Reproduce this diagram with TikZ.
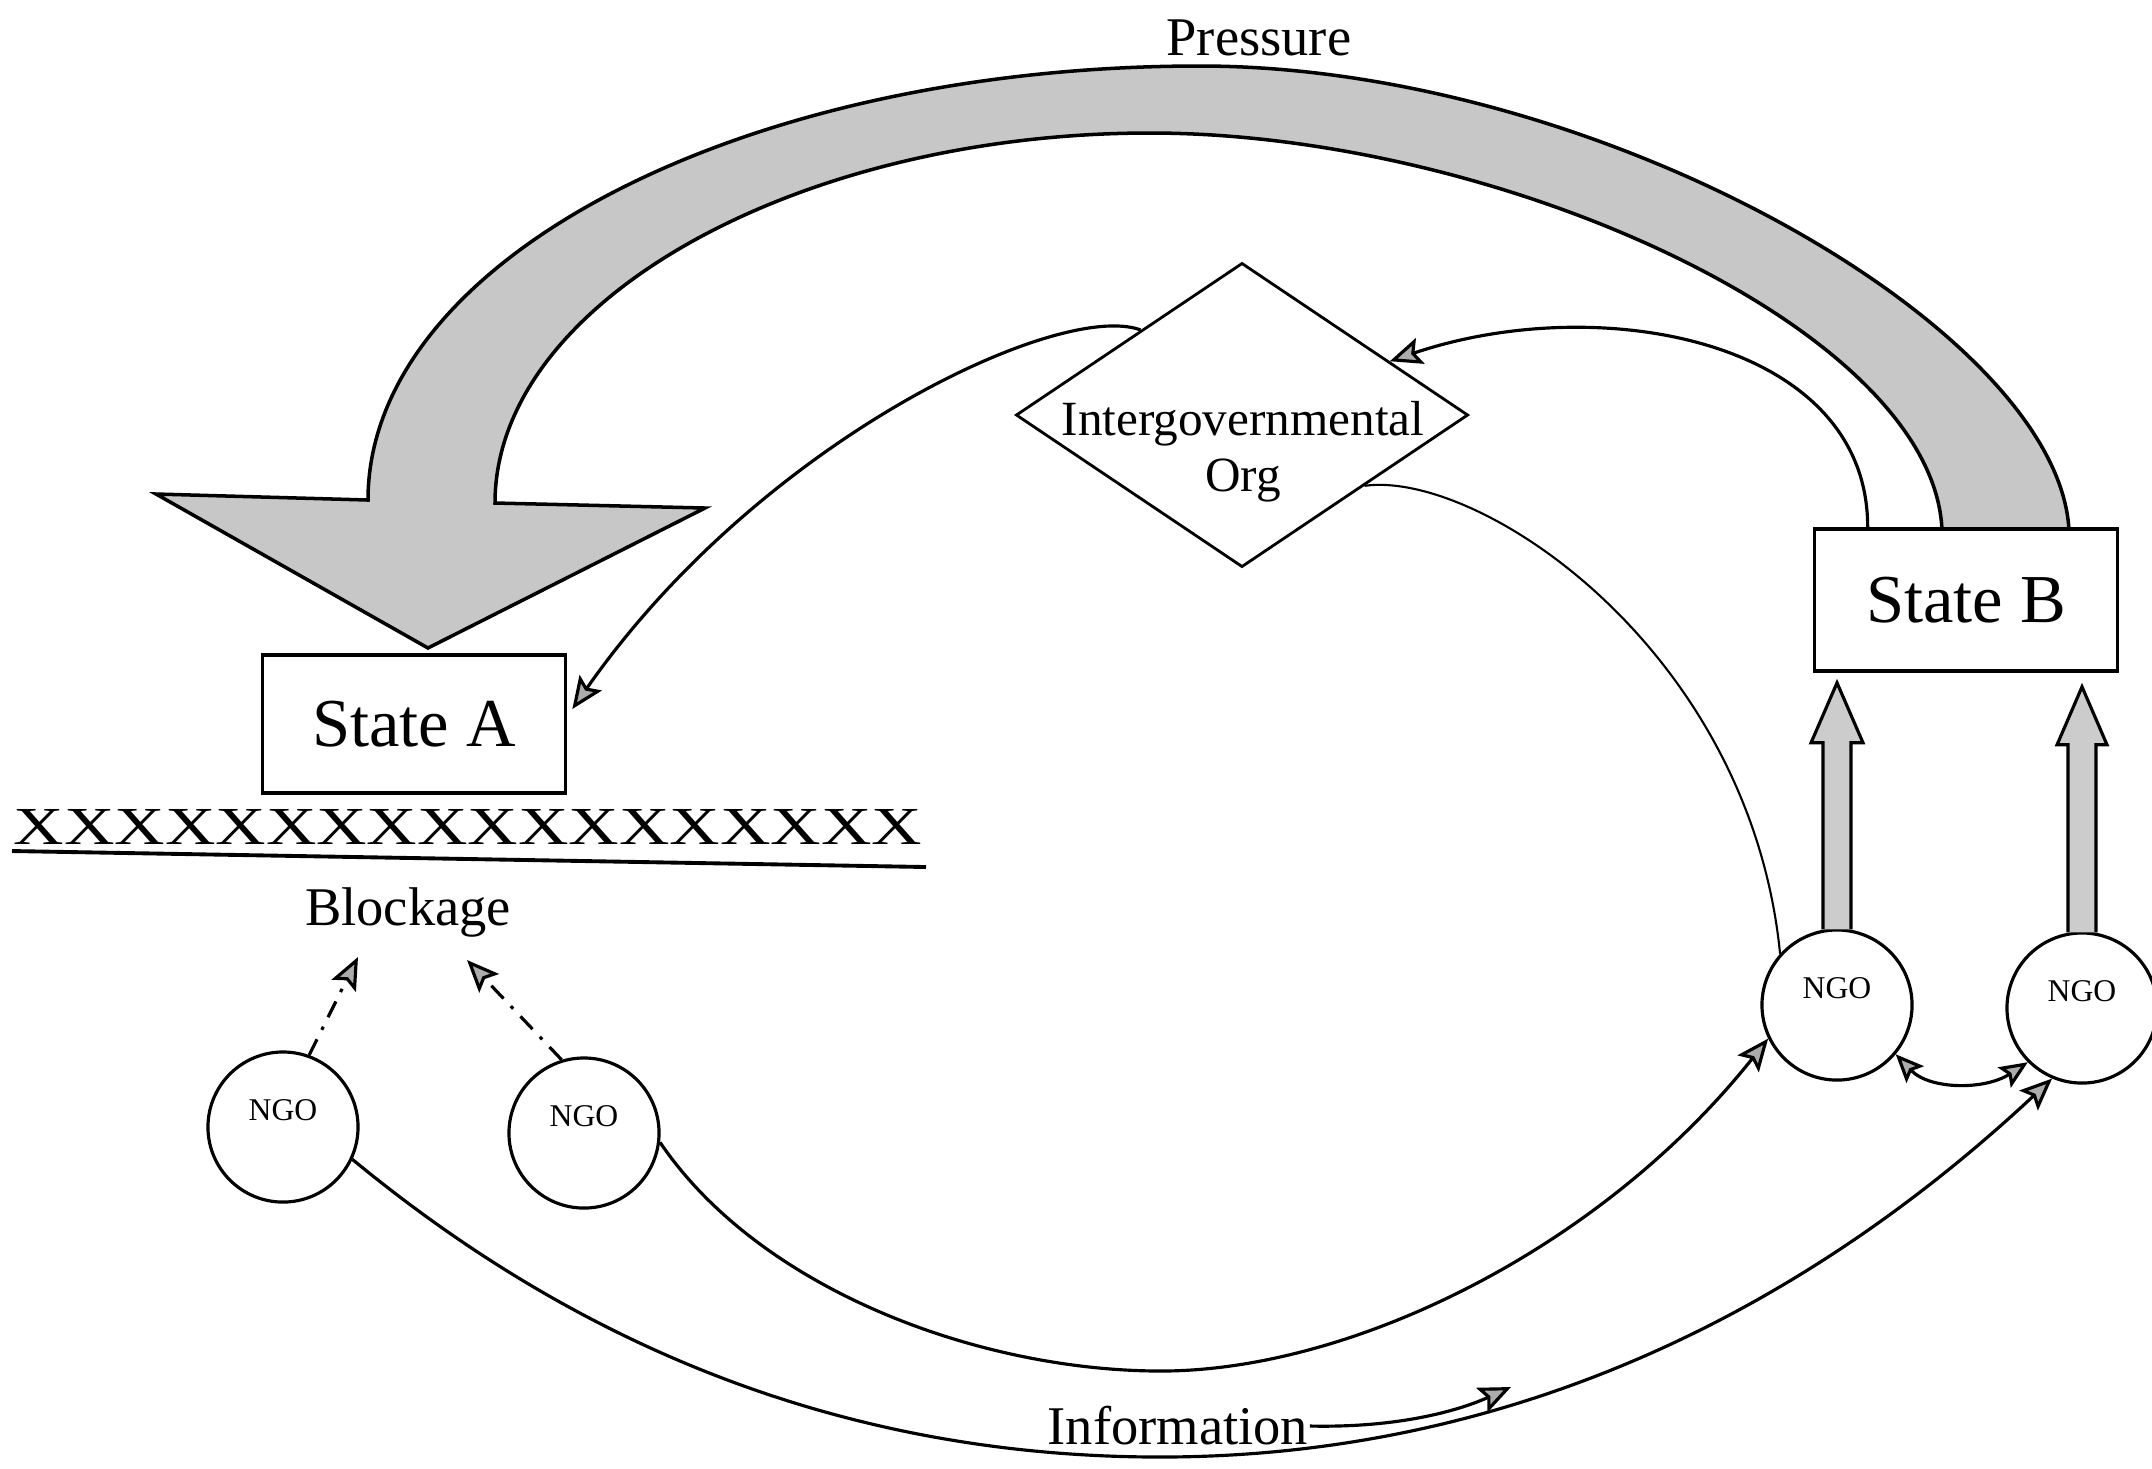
\documentclass[tikz,border=0pt]{standalone}
\usepackage{fontspec}
\setmainfont{Liberation Serif}
\usetikzlibrary{arrows.meta,shapes.geometric,calc}
\begin{document}
\begin{tikzpicture}[x=0.01cm,y=-0.01cm,line width=0.9pt,
  statebox/.style={draw, fill=white, line width=1pt, minimum width=3.03cm, inner sep=0pt, font=\fontsize{19.5}{22}\selectfont},
  ngo/.style={draw, circle, fill=white, minimum size=1.5cm, inner sep=1pt, font=\fontsize{9}{10}\selectfont, text height=0.25cm, text depth=0.38cm},
  lbl/.style={font=\fontsize{15.5}{18}\selectfont, inner sep=0pt},
  arr/.style={-{Stealth[length=0.32cm,width=0.27cm,inset=0.06cm,fill=gray!65]}},
  arrboth/.style={{Stealth[length=0.28cm,width=0.24cm,inset=0.05cm,fill=gray!65]}-{Stealth[length=0.28cm,width=0.24cm,inset=0.05cm,fill=gray!65]}},
  dashdot/.style={dash pattern=on 5pt off 3pt on 1pt off 3pt},
  bigfill/.style={draw, line width=1pt, fill=black!22},
  blockfill/.style={draw, line width=0.9pt, fill=black!20}
]
\useasboundingbox (0,0) rectangle (2152,1468);

% big curved pressure arrow
\draw[bigfill] (2069,531) .. controls (2060,330) and (1600,66) .. (1200,66)
  .. controls (741,66) and (368,260) .. (368,500) -- (156,494) -- (428,648) -- (705,508) -- (495,503)
  .. controls (495,300) and (800,133) .. (1150,133)
  .. controls (1500,133) and (1935,330) .. (1942,531) -- cycle;
\node[lbl] (pr) at (1259,38) {Pressure};

% states
\node[statebox, minimum height=1.38cm] (sA) at (414,724) {State A};
\node[statebox, minimum height=1.42cm] (sB) at (1966,600) {State B};

% intergovernmental org
\node[draw, diamond, minimum width=4.52cm, minimum height=3.04cm, inner sep=0pt, line width=0.8pt] (io) at (1242,415) {};
\node[font=\fontsize{14}{16}\selectfont, align=center, inner sep=0pt] (iot) at (1243,452) {Intergovernmental\\Org};

% blockage
\node[inner sep=0pt] (xx) at (468,827) {\resizebox{9.08cm}{0.35cm}{XXXXXXXXXXXXXXXXXX}};
\draw[line width=1.1pt] (12,851) -- (926,867);
\node[lbl] (bl) at (408,912) {Blockage};

% NGOs
\node[ngo] (n1) at (283,1127) {NGO};
\node[ngo] (n2) at (584,1133) {NGO};
\node[ngo] (nA) at (1837,1005) {NGO};
\node[ngo] (nB) at (2082,1008) {NGO};

% dash-dot arrows to blockage
\coordinate (b1) at (358,957);
\coordinate (b2) at (467,960);
\draw[arr, dashdot] (n1.70) -- (b1);
\draw[arr, dashdot] (n2.107) -- (b2);

% block arrows NGO -> State B
\coordinate (tA) at ($(nA.north |- sB.south)+(0,10)$);
\coordinate (tB) at ($(nB.north |- sB.south)+(0,14)$);
\draw[blockfill] ($(nA.north)+(-14,1)$) -- ($(tA)+(-14,60)$) -- ($(tA)+(-26,60)$) -- (tA)
  -- ($(tA)+(26,60)$) -- ($(tA)+(14,60)$) -- ($(nA.north)+(14,1)$);
\draw[blockfill] ($(nB.north)+(-14,1)$) -- ($(tB)+(-14,58)$) -- ($(tB)+(-25,58)$) -- (tB)
  -- ($(tB)+(25,58)$) -- ($(tB)+(14,58)$) -- ($(nB.north)+(14,1)$);

% State B -> IGO
\draw[arr] ($(sB.north west)+(55,0)$) .. controls (1868,340) and (1600,290) .. (io.20);
% IGO -> State A
\draw[arr] (io.140) .. controls (1060,300) and (760,440) .. ($(sA.east)+(5,-15)$);
% IGO -- NGO A
\draw[line width=0.6pt] (io.-30) .. controls (1480,470) and (1750,650) .. (nA.138);

% information flows
\draw[arr] (n2.-7) .. controls (760,1290) and (980,1371) .. (1161,1371)
  .. controls (1350,1371) and (1600,1250) .. (nA.206);
\draw[arr] (n1.-25) .. controls (593,1358) and (862,1457) .. (1160,1457)
  .. controls (1475,1457) and (1773,1339) .. (nB.247);
\draw[arrboth] (nA.-40) .. controls (1930,1090) and (1985,1090) .. (nB.225);

\node[lbl] (inf) at (1178,1426) {Information};
\coordinate (infEnd) at (1511,1387);
\draw[arr] (inf.east) .. controls (1400,1428) and (1460,1410) .. (infEnd);
\end{tikzpicture}
\end{document}
